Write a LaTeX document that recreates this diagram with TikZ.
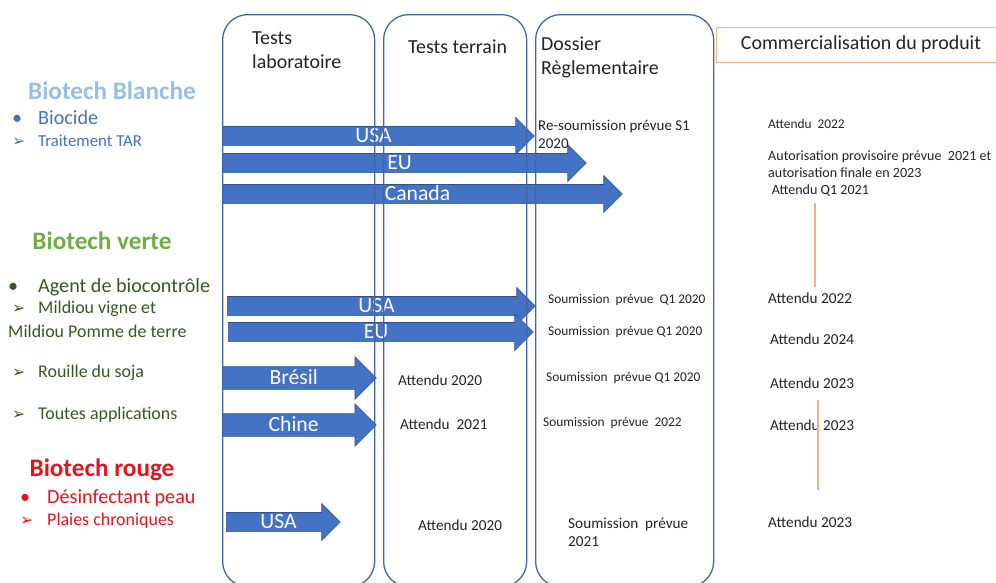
\documentclass[tikz,border=0pt]{standalone}
\usepackage{fontspec}
\setmainfont{Carlito}
\newfontfamily\symf{DejaVu Sans}
\usepackage{tikz}
\usetikzlibrary{shapes,arrows}

\definecolor{arrowblue}{RGB}{68,114,196}
\definecolor{arrowedge}{RGB}{47,82,143}
\definecolor{colline}{RGB}{68,100,170}
\definecolor{orangeline}{RGB}{244,177,131}
\definecolor{blanche}{RGB}{150,190,230}
\definecolor{blanchetxt}{RGB}{68,114,196}
\definecolor{vertetitle}{RGB}{112,173,71}
\definecolor{vertetxt}{RGB}{56,87,35}
\definecolor{rougetxt}{RGB}{226,20,30}
\definecolor{notetxt}{RGB}{35,35,35}

\newcommand{\pxu}{0.03cm}
\newcommand{\fsz}[2]{\fontsize{#1pt}{#2pt}\selectfont}
\newcommand{\mk}[2]{\makebox[#1\dimexpr0.03cm\relax][l]{#2}}
\newcommand{\tip}{{\symf\fsz{13.5}{14}➢}}

\tikzstyle{column} = [draw=colline, line width=1.1pt, rounded corners=0.75cm,
    anchor=north west, inner sep=0pt]
\tikzstyle{commbox} = [draw=orangeline, line width=0.6pt, inner sep=0pt,
    minimum width=290*\pxu, minimum height=35*\pxu, text=notetxt, font=\fsz{17}{20}]
\tikzstyle{header} = [anchor=west, inner sep=0pt, align=left, text=notetxt, font=\fsz{17}{20.5}]
\tikzstyle{bigarrow} = [single arrow, fill=arrowblue, draw=arrowedge, line width=0.5pt,
    inner xsep=0pt, inner ysep=0pt, anchor=tail, text=white, font=\fsz{18.5}{20},
    text height=15.5*\pxu, text depth=3*\pxu, single arrow head extend=9*\pxu]
\tikzstyle{widearrow} = [bigarrow, text height=17.5*\pxu, text depth=4.5*\pxu,
    single arrow head extend=10*\pxu]
\tikzstyle{title} = [inner sep=0pt, font=\bfseries\fsz{21.5}{24}]
\tikzstyle{item} = [anchor=west, inner sep=0pt, font=\fsz{15.3}{18}]
\tikzstyle{bigitem} = [item, font=\fsz{17.2}{20}]
\tikzstyle{note} = [anchor=west, inner sep=0pt, align=left, text=notetxt, font=\fsz{11.4}{14.5}]
\tikzstyle{bignote} = [note, font=\fsz{13}{15.4}]
\tikzstyle{orangemark} = [draw=orangeline, line width=0.9pt]

\begin{document}
\begin{tikzpicture}[x=0.03cm, y=-0.03cm]
   \useasboundingbox (0,0) rectangle (996,583);
   % left labels
   \node [title, text=blanche] (t_blanche) at (112,91) {Biotech Blanche};
   \node [bigitem, text=blanchetxt] (i_biocide) at (12,118) {\mk{26}{•}Biocide};
   \node [item, text=blanchetxt, font=\fsz{14.3}{16}] (i_tar) at (12,141) {\mk{26}{\tip}Traitement TAR};
   \node [title, text=vertetitle] (t_verte) at (102,241) {Biotech verte};
   \node [bigitem, text=vertetxt] (i_agent) at (8,287) {\mk{30}{•}Agent de biocontrôle};
   \node [item, text=vertetxt] (i_vigne) at (12,309) {\mk{26}{\tip}Mildiou vigne et};
   \node [item, text=vertetxt] (i_pomme) at (8,331) {Mildiou Pomme de terre};
   \node [item, text=vertetxt] (i_soja) at (12,373) {\mk{26}{\tip}Rouille du soja};
   \node [item, text=vertetxt] (i_toutes) at (12,415) {\mk{26}{\tip}Toutes applications};
   \node [title, text=rougetxt] (t_rouge) at (102,470) {Biotech rouge};
   \node [bigitem, text=rougetxt] (i_peau) at (20,498) {\mk{27}{•}Désinfectant peau};
   \node [item, text=rougetxt] (i_plaies) at (20,521) {\mk{27}{\tip}Plaies chroniques};
   % block arrows
   \node [bigarrow, minimum height=312*\pxu] (usa_blanche) at (222,136) {USA};
   \node [bigarrow, minimum height=364*\pxu] (eu_blanche) at (222,163) {EU};
   \node [bigarrow, minimum height=400*\pxu] (canada_blanche) at (222,194) {Canada};
   \node [bigarrow, minimum height=308*\pxu] (usa_verte) at (227,306) {USA};
   \node [bigarrow, minimum height=305*\pxu] (eu_verte) at (228,332) {EU};
   \node [widearrow, minimum height=154*\pxu] (bresil_verte) at (222,378) {Brésil};
   \node [widearrow, minimum height=154*\pxu] (chine_verte) at (222,425) {Chine};
   \node [bigarrow, minimum height=114*\pxu] (usa_rouge) at (226,522) {USA};
   % columns
   \node [column, minimum width=152*\pxu, minimum height=572*\pxu] (col_lab) at (222,14) {};
   \node [column, minimum width=143*\pxu, minimum height=572*\pxu] (col_terrain) at (383,14) {};
   \node [column, minimum width=178*\pxu, minimum height=572*\pxu] (col_dossier) at (535,14) {};
   \node [header] (h_lab) at (252,50) {Tests\\laboratoire};
   \node [header] (h_terrain) at (408,47) {Tests terrain};
   \node [header] (h_dossier) at (541,57.5) {Dossier\\Règlementaire};
   \node [commbox] (h_comm) at (861,44.5) {Commercialisation du produit};
   % tests terrain
   \node [bignote] (terrain_bresil) at (398,380) {Attendu 2020};
   \node [bignote] (terrain_chine) at (400,424) {Attendu\ \ 2021};
   \node [bignote] (terrain_usa) at (418,525) {Attendu 2020};
   % dossier
   \node [note, font=\fsz{12.8}{15.4}] (dos_usa_b) at (538,134) {Re-soumission prévue S1\\2020};
   \node [note] (dos_usa_v) at (548,300) {Soumission\ \ prévue\ \ Q1 2020};
   \node [note] (dos_eu_v) at (548,332) {Soumission\ \ prévue Q1 2020};
   \node [note] (dos_bresil) at (546,378) {Soumission\ \ prévue Q1 2020};
   \node [note] (dos_chine) at (543,423) {Soumission\ \ prévue\ \ 2022};
   \node [bignote] (dos_usa_r) at (568,532) {Soumission\ \ prévue\\2021};
   % commercialisation
   \node [note] (com_usa_b) at (768,124) {Attendu\ \ 2022};
   \node [note, font=\fsz{12}{14.5}] (com_eu_b) at (768,174) {Autorisation provisoire prévue\ \ 2021 et\\autorisation finale en 2023\\\hspace*{3pt}Attendu Q1 2021};
   \node [bignote] (com_usa_v) at (768,298) {Attendu 2022};
   \node [bignote] (com_eu_v) at (770,339) {Attendu 2024};
   \node [bignote] (com_bresil) at (770,383) {Attendu 2023};
   \node [bignote] (com_chine) at (770,425) {Attendu 2023};
   \node [bignote] (com_usa_r) at (768,522) {Attendu 2023};
   % orange marks
   \coordinate (mark_a1) at (815,203);
   \coordinate (mark_a2) at (815,287);
   \coordinate (mark_b1) at (818,400);
   \coordinate (mark_b2) at (818,490);
   \path [orangemark] (mark_a1) -- (mark_a2);
   \path [orangemark] (mark_b1) -- (mark_b2);
\end{tikzpicture}
\end{document}
